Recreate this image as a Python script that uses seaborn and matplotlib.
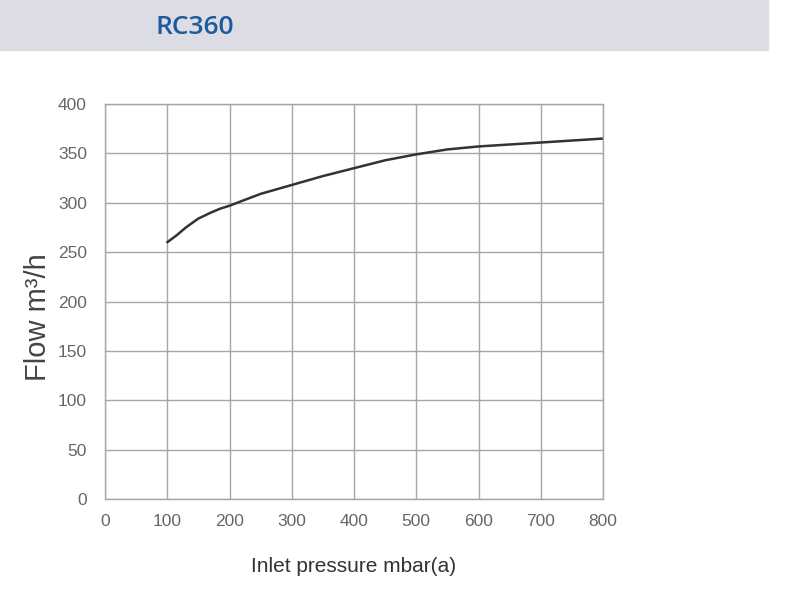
import numpy as np
import pandas as pd
import seaborn as sns
import matplotlib.pyplot as plt
from matplotlib.patches import Rectangle

# curve
pressure = [100, 115, 130, 150, 170, 185, 200, 250, 300, 350, 400, 450, 500, 550, 600, 650, 700, 750, 800]
flow = [260, 267, 275, 284, 290, 294, 297, 309, 318, 327, 335, 343, 349, 354, 357, 359, 361, 363, 365]
x_ticks = [0, 100, 200, 300, 400, 500, 600, 700, 800]
y_ticks = [0, 50, 100, 150, 200, 250, 300, 350, 400]

df = pd.DataFrame({"pressure": pressure, "flow": flow})

sns.set_style("white")
plt.rcParams["font.family"] = ["Liberation Sans", "DejaVu Sans"]

fig = plt.figure(figsize=(7.88, 6.14), dpi=100)
ax = fig.add_axes([105 / 788, 1 - 499 / 614, 498 / 788, 395 / 614])

# header band with model name
fig.patches.append(Rectangle((0, 1 - 50 / 614), 768 / 788, 50 / 614,
                             transform=fig.transFigure, color="#dcdde4", zorder=0))
fig.text(155 / 788, 1 - 27 / 614, "RC360", fontsize=19, fontweight="semibold",
         family=["Open Sans", "DejaVu Sans"], color="#1c5a9c", va="center", ha="left")

sns.lineplot(data=df, x="pressure", y="flow", ax=ax, color="#333333", linewidth=1.8)

ax.set_xlim(0, 800)
ax.set_ylim(0, 400)
ax.set_xticks(x_ticks)
ax.set_yticks(y_ticks)
ax.grid(True, color="#a6a6a6", linewidth=1)
for s in ax.spines.values():
    s.set_color("#a6a6a6")
    s.set_linewidth(1)
ax.tick_params(axis="both", length=0, labelsize=12.5, colors="#666666")
ax.tick_params(axis="x", pad=11)
ax.tick_params(axis="y", pad=13)

ax.set_xlabel("Inlet pressure mbar(a)", fontsize=15, color="#333333", labelpad=20)
ax.set_ylabel("Flow m³/h", fontsize=21, color="#444444")
ax.yaxis.set_label_coords(-0.106, 0.46)

fig.savefig("out.png", dpi=100)
